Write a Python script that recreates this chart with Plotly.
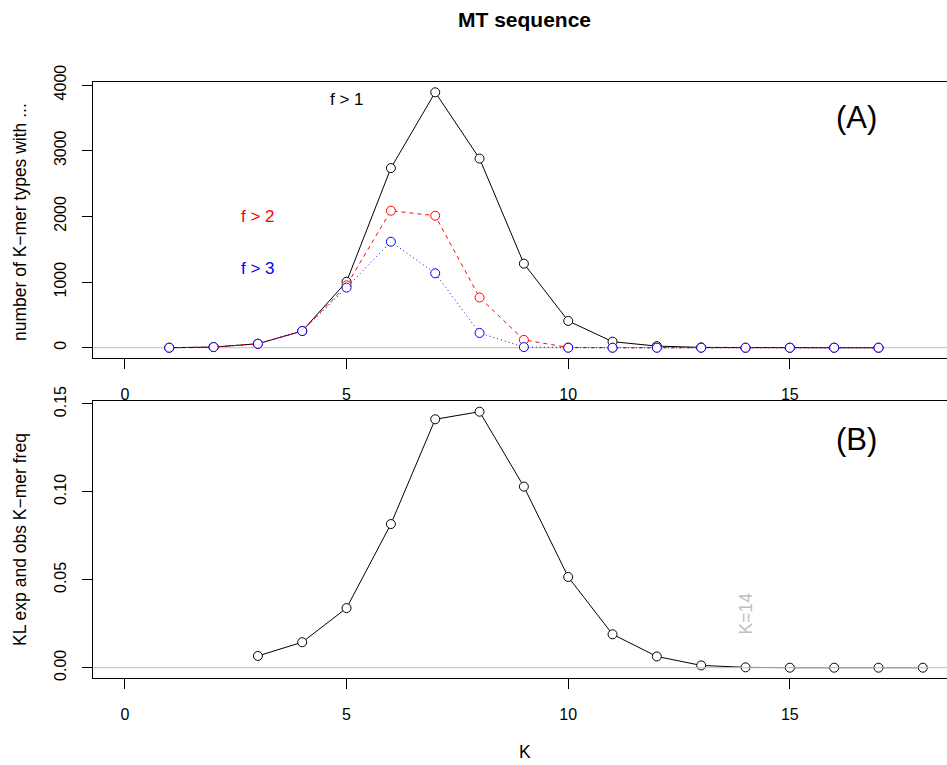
import plotly.graph_objects as go

# ---- data ----
k_top = list(range(1, 18))
f_gt1 = [0, 10, 60, 255, 1005, 2735, 3889, 2880, 1280, 408, 92, 25, 5, 0, 0, 0, 0]
f_gt2 = [0, 10, 60, 255, 950, 2086, 2010, 765, 120, 3, 0, 0, 0, 0, 0, 0, 0]
f_gt3 = [0, 10, 60, 254, 915, 1614, 1133, 225, 10, 0, 0, 0, 0, 0, 0, 0, 0]

k_bot = list(range(3, 19))
kl = [0.0067, 0.0145, 0.0339, 0.0817, 0.1413, 0.1456, 0.1030, 0.0516,
      0.0190, 0.0064, 0.0013, 0.0002, 0.0, 0.0, 0.0, 0.0]

x_ticks = [0, 5, 10, 15]
top_ticks = [0, 1000, 2000, 3000, 4000]
bot_ticks = [0.0, 0.05, 0.10, 0.15]
bot_ticklabels = ["0.00", "0.05", "0.10", "0.15"]

FONT = "Liberation Sans, Arial, Helvetica, sans-serif"
GREY = "#BEBEBE"
W, H = 947, 765
L = 93
PW = W - L

fig = go.Figure()

def series(x, y, color, dash, xa, ya):
    fig.add_trace(go.Scatter(
        x=x, y=y, mode="lines+markers", xaxis=xa, yaxis=ya,
        line=dict(color=color, width=1, dash=dash),
        marker=dict(symbol="circle", size=9, color="white",
                    line=dict(color=color, width=1)),
        showlegend=False, hoverinfo="x+y"))

series(k_top, f_gt1, "black", "solid", "x", "y")
series(k_top, f_gt2, "#FF0000", "4px,4px", "x", "y")
series(k_top, f_gt3, "#0000FF", "1px,3px", "x", "y")
series(k_bot, kl, "black", "solid", "x2", "y2")

top_max = max(f_gt1)
bot_max = max(kl)
xr = [-0.72, 18.545]

axis_common = dict(showline=True, linecolor="black", linewidth=1, automargin=False,
                   ticks="outside", ticklen=10, tickcolor="black", tickwidth=1,
                   showgrid=False, zeroline=False,
                   tickfont=dict(family=FONT, size=16, color="black"))

fig.update_layout(
    width=W, height=H,
    margin=dict(l=L, r=0, t=0, b=0, pad=0),
    paper_bgcolor="white", plot_bgcolor="white",
    xaxis=dict(domain=[0, 1], range=xr, anchor="y", tickvals=x_ticks,
               mirror=True, ticklabelstandoff=12, **axis_common),
    yaxis=dict(domain=[0.5321, 0.8927], range=[-0.04 * top_max, 1.04 * top_max],
               anchor="x", tickvals=top_ticks, tickangle=-90,
               ticklabelstandoff=10, **axis_common),
    xaxis2=dict(domain=[0, 1], range=xr, anchor="y2", tickvals=x_ticks,
                mirror=True, ticklabelstandoff=12, **axis_common),
    yaxis2=dict(domain=[0.1138, 0.4752], range=[-0.04 * bot_max, 1.04 * bot_max],
                anchor="x2", tickvals=bot_ticks, ticktext=bot_ticklabels,
                tickangle=-90, ticklabelstandoff=10, **axis_common),
)

# reference lines at zero
fig.add_shape(type="line", xref="x domain", yref="y", x0=0, x1=1, y0=0, y1=0,
              line=dict(color=GREY, width=1), layer="below")
fig.add_shape(type="line", xref="x2 domain", yref="y2", x0=0, x1=1, y0=0, y1=0,
              line=dict(color=GREY, width=1), layer="above")

def txt(x, y, s, xref, yref, size=17, color="black", angle=0, bold=False):
    fig.add_annotation(x=x, y=y, xref=xref, yref=yref, text=("<b>%s</b>" % s) if bold else s,
                       showarrow=False, textangle=angle, xanchor="center", yanchor="middle",
                       font=dict(family=FONT, size=size, color=color))

def px_x(p):
    return (p - L) / PW

def px_y(p):
    return 1 - p / H

txt(5, 3780, "f &gt; 1", "x", "y")
txt(3, 2000, "f &gt; 2", "x", "y", color="#FF0000")
txt(3, 1200, "f &gt; 3", "x", "y", color="#0000FF")
txt(16.5, 3500, "(A)", "x", "y", size=31)
txt(16.5, 0.130, "(B)", "x2", "y2", size=31)
txt(14, 0.0306, "K=14", "x2", "y2", color=GREY, angle=-90, size=17.5)

# titles
txt(px_x(524), px_y(19), "MT sequence", "paper", "paper", size=21, bold=True)
txt(px_x(525), px_y(752), "K", "paper", "paper", size=17.5)
txt(px_x(20), px_y(222), "number of K\u2212mer types with ...", "paper", "paper", angle=-90, size=17.5)
txt(px_x(20), px_y(540), "KL exp and obs K\u2212mer freq", "paper", "paper", angle=-90, size=17.5)

fig.write_html("out.html", config={"displayModeBar": False},
               post_script="document.body.style.margin='0';document.body.style.padding='0';")
